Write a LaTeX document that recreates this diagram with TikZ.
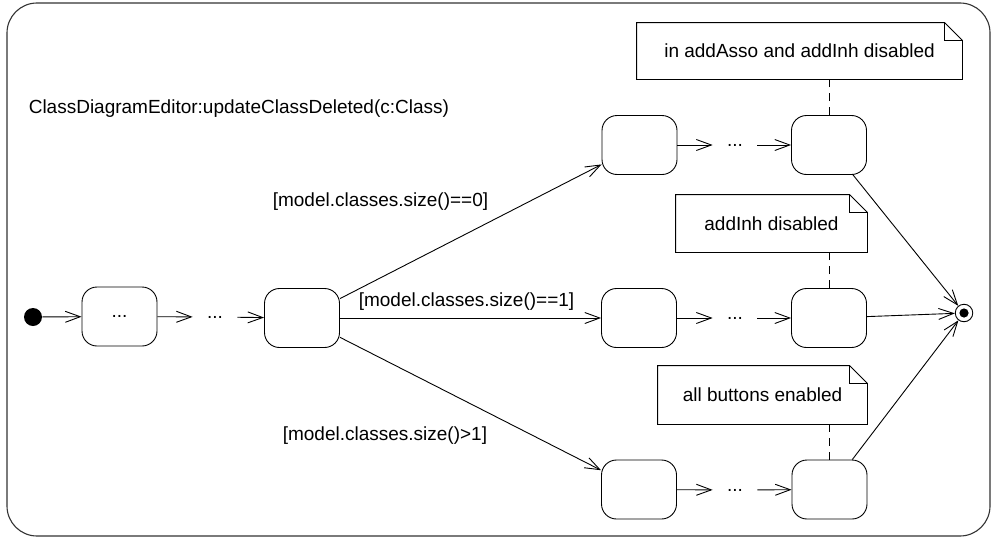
\documentclass[tikz,border=0pt]{standalone}
\usepackage{fontspec}
\setmainfont{Liberation Sans}
\usetikzlibrary{arrows.meta}

\tikzset{
  state/.style={draw, rounded corners=15pt, minimum width=75pt, minimum height=59pt, inner sep=0pt},
  dots/.style={inner xsep=14pt, inner ysep=2pt},
  notebox/.style={inner sep=0pt, minimum height=57pt},
  trans/.style={-{Straight Barb[length=15pt,width=11pt]}},
  guard/.style={anchor=base west},
}

% folded corner of a note
\newcommand{\drawnote}[1]{%
  \draw (#1.north west) -- ([xshift=-18pt]#1.north east) -- ([yshift=-18pt]#1.north east)
    -- (#1.south east) -- (#1.south west) -- cycle;
  \draw ([xshift=-18pt]#1.north east) |- ([yshift=-18pt]#1.north east);}

\begin{document}
\begin{tikzpicture}[x=1pt, y=-1pt, line width=0.9pt,
    every node/.style={font=\fontsize{19}{23}\selectfont}]
  \useasboundingbox (0,0) rectangle (992,538);

  % frame
  \draw[rounded corners=30pt, line width=1.1pt, color=black!80] (7,3) rectangle (990,536);
  \node[anchor=base west] (title) at (25,113) {ClassDiagramEditor:updateClassDeleted(c:Class)};

  % states
  \node[circle, fill=black, minimum size=18pt, inner sep=0pt] (init) at (33,317) {}; % start
  \node[state] (s1) at (119.5,316.5) {...};
  \node[dots] (d1) at (215,317) {...};
  \node[state] (s2) at (302,318) {};

  \node[state] (t1) at (639.5,145) {}; % ==0
  \node[dots] (td) at (735,145) {...};
  \node[state] (t2) at (829,145) {};

  \node[state] (m1) at (639,318) {}; % ==1
  \node[dots] (md) at (735,318) {...};
  \node[state] (m2) at (829,318) {};

  \node[state] (b1) at (639,489.5) {}; % >1
  \node[dots] (bd) at (735,490) {...};
  \node[state] (b2) at (829.5,489.5) {};

  \node[circle, draw, minimum size=17.5pt, inner sep=0pt,
    path picture={\fill (path picture bounding box.center) circle (4.6pt);}] (final) at (964,313) {}; % end

  % DRAW TRANSITIONS
  \draw[trans] (init) -- (s1);
  \draw[trans] (s1) -- (d1);
  \draw[trans] (d1) -- (s2);
  \draw[trans] (s2) -- (t1);
  \draw[trans] (s2) -- (m1);
  \draw[trans] (s2) -- (b1);
  \draw[trans] (t1) -- (td); \draw[trans] (td) -- (t2);
  \draw[trans] (m1) -- (md); \draw[trans] (md) -- (m2);
  \draw[trans] (b1) -- (bd); \draw[trans] (bd) -- (b2);
  \draw[trans] (t2) -- (final);
  \draw[trans] (m2) -- (final);
  \draw[trans] (b2) -- (final);

  % guards
  \node[guard] (g0) at (269,206) {[model.classes.size()==0]};
  \node[guard] (g1) at (355,306.5) {[model.classes.size()==1]};
  \node[guard] (g2) at (279,440.5) {[model.classes.size()>1]};

  % DRAW NOTES
  \node[notebox, minimum width=325pt, minimum height=56pt] (n0) at (799.5,51) {in addAsso and addInh disabled};
  \node[notebox, minimum width=191pt] (n1) at (771.5,223.5) {addInh disabled};
  \node[notebox, minimum width=209pt, minimum height=58pt] (n2) at (762.5,395) {all buttons enabled};
  \drawnote{n0} \drawnote{n1} \drawnote{n2}
  \draw[dashed, dash pattern=on 8pt off 6pt] (t2.north) -- (t2.north |- n0.south);
  \draw[dashed, dash pattern=on 8pt off 6pt] (m2.north) -- (m2.north |- n1.south);
  \draw[dashed, dash pattern=on 8pt off 6pt] (b2.north) -- (b2.north |- n2.south);
\end{tikzpicture}
\end{document}
